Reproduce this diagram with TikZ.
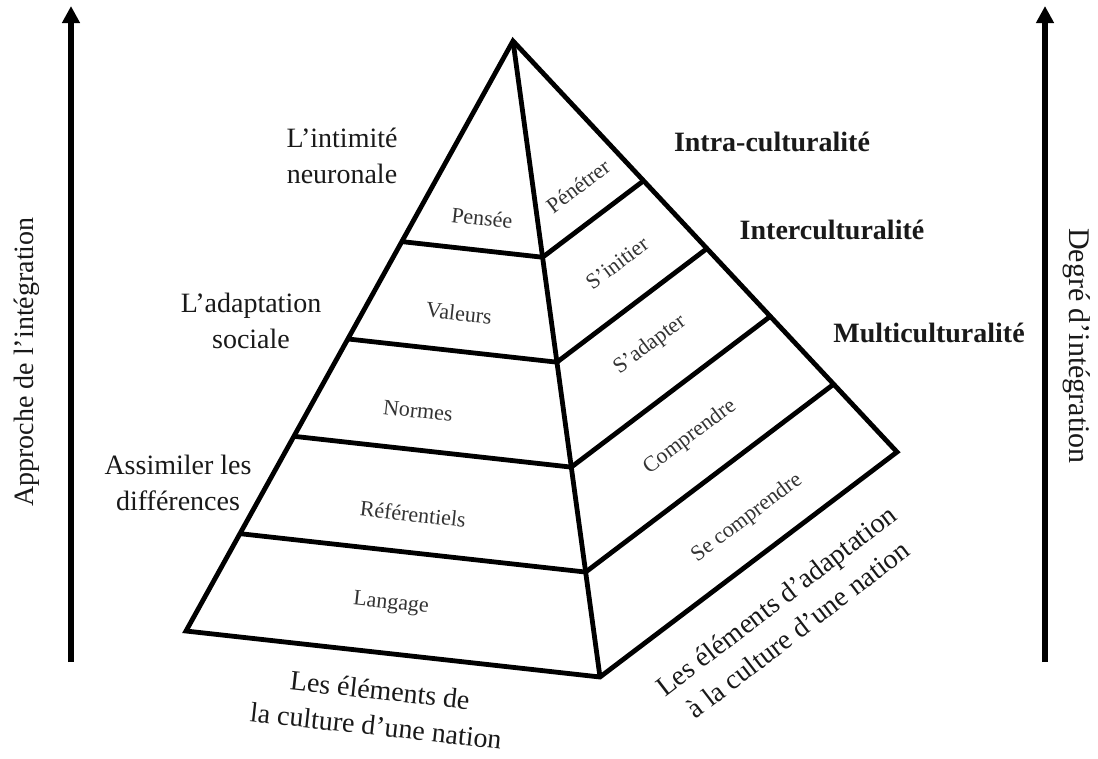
\documentclass[tikz,border=0pt]{standalone}
\usepackage{fontspec}
\setmainfont{Liberation Serif}
\usetikzlibrary{calc,arrows.meta}
\begin{document}
\begin{tikzpicture}[x=1pt,y=-1pt,
  pyr/.style={line width=4.8pt, line join=miter},
  axisarrow/.style={line width=5.5pt, -{Triangle[length=17pt,width=17pt]}},
  outer/.style={font=\fontsize{28}{36}\selectfont, align=center, inner sep=0pt, text=black!90},
  levelname/.style={font=\fontsize{28}{32}\selectfont\bfseries, inner sep=0pt, text=black!90},
  innerlbl/.style={font=\fontsize{22}{25}\selectfont, inner sep=0pt, text=black!80},
  lface/.style={innerlbl, rotate=-6.3},
  rface/.style={innerlbl, rotate=37},
]
\useasboundingbox[fill=white] (0,0) rectangle (1098,758);

% pyramid corners
\coordinate (A)  at (513,41);
\coordinate (BL) at (186,631);
\coordinate (BF) at (600,677);
\coordinate (BR) at (897,452);

\draw[pyr] (A) -- (BL) -- (BF) -- (BR) -- cycle;
\draw[pyr] (A) -- (BF);
\foreach \t in {0.34,0.505,0.67,0.835} {
  \draw[pyr] ($(A)!\t!(BL)$) -- ($(A)!\t!(BF)$) -- ($(A)!\t!(BR)$);
}

% axes
\coordinate (la0) at (71,662);
\coordinate (la1) at (71,6);
\coordinate (ra0) at (1045,662);
\coordinate (ra1) at (1045,6);
\draw[axisarrow] (la0) -- (la1);
\draw[axisarrow] (ra0) -- (ra1);

\node[outer, rotate=90] (approche) at (27,362) {Approche de l’intégration};
\node[outer, rotate=-90, font=\fontsize{30}{36}\selectfont] (degre) at (1077,346) {Degré d’intégration};

% left labels
\node[outer] (intimite) at (342,156) {L’intimité\\neuronale};
\node[outer] (adaptsoc) at (251,321) {L’adaptation\\sociale};
\node[outer] (assimiler) at (178,483) {Assimiler les\\différences};

% right level names
\node[levelname] (intra) at (772,142) {Intra-culturalité};
\node[levelname] (inter) at (832,230) {Interculturalité};
\node[levelname] (multi) at (929,333) {Multiculturalité};

% left face
\node[lface] (pensee) at (482,218) {Pensée};
\node[lface] (valeurs) at (459,313) {Valeurs};
\node[lface] (normes) at (418,411) {Normes};
\node[lface] (referentiels) at (413,514) {Référentiels};
\node[lface] (langage) at (391,604) {Langage};

% right face
\node[rface] (penetrer) at (578,186) {Pénétrer};
\node[rface] (sinitier) at (617,263) {S’initier};
\node[rface] (sadapter) at (650,345) {S’adapter};
\node[rface] (comprendre) at (690,437) {Comprendre};
\node[rface] (secomprendre) at (747,518) {Se comprendre};

% bottom labels
\node[outer, rotate=-6.3] (elemculture) at (378,708) {Les éléments de\\la culture d’une nation};
\node[outer, rotate=37.5] (elemadapt) at (787,615) {Les éléments d’adaptation\\à la culture d’une nation};
\end{tikzpicture}
\end{document}
